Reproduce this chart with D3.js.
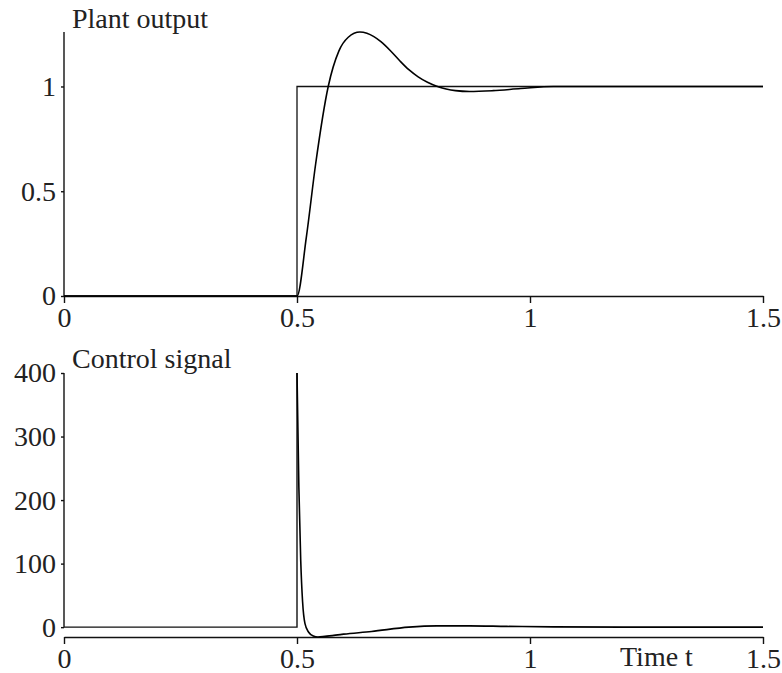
<!DOCTYPE html>
<html>
<head>
<meta charset="utf-8">
<script src="https://cdn.jsdelivr.net/npm/d3@7"></script>
<style>
  body { margin: 0; background: #fff; }
  svg text { font-family: "Liberation Serif", "Times New Roman", serif; fill: #222; }
</style>
</head>
<body>
<script>
// step reference
var refT = [0, 0.5, 0.5, 1.5];
var refY = [0, 0, 1, 1];

// plant output
var outT = [0, 0.5, 0.52, 0.54, 0.567, 0.59, 0.61, 0.635, 0.65, 0.665, 0.68, 0.70, 0.72, 0.74, 0.76, 0.78, 0.80, 0.82, 0.84, 0.87, 0.92, 0.98, 1.05, 1.2, 1.5];
var outY = [0, 0, 0.28, 0.63, 1.0, 1.17, 1.235, 1.26, 1.254, 1.238, 1.214, 1.172, 1.124, 1.08, 1.046, 1.02, 1.001, 0.988, 0.98, 0.976, 0.98, 0.99, 1.0, 1.0, 1.0];

// control signal: flat before the step, then spike and decay
var ctlPreT = [0, 0.5, 0.5];
var ctlPreU = [0, 0, 400];
var ctlT = [0.5, 0.504, 0.508, 0.512, 0.517, 0.525, 0.535, 0.545, 0.56, 0.60, 0.66, 0.74, 0.80, 0.87, 0.95, 1.05, 1.2, 1.5];
var ctlU = [400, 220, 105, 40, 6, -8, -14, -15.5, -14.5, -11, -6.8, 0, 2, 2, 1.2, 0.5, 0.1, 0];

var xTicks = [0, 0.5, 1, 1.5];
var topTicks = [0, 0.5, 1];
var botTicks = [0, 100, 200, 300, 400];

var width = 782,
    height = 673;

var svg = d3.select("body").append("svg")
    .attr("width", width)
    .attr("height", height);

var x = d3.scaleLinear().domain([0, 1.5]).range([64, 763]);

var yTop = d3.scaleLinear()
    .domain([0, d3.max(outY)])
    .range([296, 32]);

var yBot = d3.scaleLinear()
    .domain([d3.min(ctlU), d3.max(ctlPreU)])
    .range([637, 373]);

function pairs(ts, vs) {
    return ts.map(function(t, i) { return [t, vs[i]]; });
}

function drawPanel(y, yTicks, title, titleY) {
    var g = svg.append("g");

    // x axis sits at the bottom of the data range
    g.append("g")
        .attr("transform", "translate(0," + y.range()[0] + ")")
        .call(d3.axisBottom(x).tickValues(xTicks).tickFormat(d3.format("")).tickSize(7).tickSizeOuter(0).tickPadding(4));

    // y axis only spans 0 .. top
    var yAxis = g.append("g")
        .attr("transform", "translate(64,0)")
        .call(d3.axisLeft(y).tickValues(yTicks).tickFormat(d3.format("")).tickSize(3).tickSizeOuter(0).tickPadding(5));
    yAxis.select(".domain").remove();
    yAxis.append("line")
        .attr("y1", y(0))
        .attr("y2", y(y.domain()[1]))
        .attr("stroke", "#111")
        .attr("stroke-width", 1.4);

    g.selectAll(".domain").attr("stroke", "#111").attr("stroke-width", 1.4);
    g.selectAll(".tick line").attr("stroke", "#111").attr("stroke-width", 1.4);
    g.selectAll(".tick text")
        .style("font-size", "28px")
        .style("font-family", "Liberation Serif, serif")
        .attr("fill", "#222");

    g.append("text")
        .attr("x", 72)
        .attr("y", titleY)
        .style("font-size", "28px")
        .text(title);
    return g;
}

var topPanel = drawPanel(yTop, topTicks, "Plant output", 28);
var botPanel = drawPanel(yBot, botTicks, "Control signal", 368);

botPanel.append("text")
    .attr("x", 620)
    .attr("y", 666)
    .style("font-size", "28px")
    .text("Time t");

// top panel: reference step and plant output
topPanel.append("path")
    .datum(pairs(refT, refY))
    .attr("fill", "none")
    .attr("stroke", "#111")
    .attr("stroke-width", 1.3)
    .attr("d", d3.line()
        .x(function(d) { return x(d[0]); })
        .y(function(d) { return yTop(d[1]); }));

topPanel.append("path")
    .datum(pairs(outT, outY))
    .attr("fill", "none")
    .attr("stroke", "#000")
    .attr("stroke-width", 1.6)
    .attr("d", d3.line()
        .x(function(d) { return x(d[0]); })
        .y(function(d) { return yTop(d[1]); })
        .curve(d3.curveMonotoneX));

// bottom panel: control signal
botPanel.append("path")
    .datum(pairs(ctlPreT, ctlPreU))
    .attr("fill", "none")
    .attr("stroke", "#111")
    .attr("stroke-width", 1.4)
    .attr("d", d3.line()
        .x(function(d) { return x(d[0]); })
        .y(function(d) { return yBot(d[1]); }));

botPanel.append("path")
    .datum(pairs(ctlT, ctlU))
    .attr("fill", "none")
    .attr("stroke", "#000")
    .attr("stroke-width", 1.6)
    .attr("d", d3.line()
        .x(function(d) { return x(d[0]); })
        .y(function(d) { return yBot(d[1]); })
        .curve(d3.curveMonotoneX));
</script>
</body>
</html>
